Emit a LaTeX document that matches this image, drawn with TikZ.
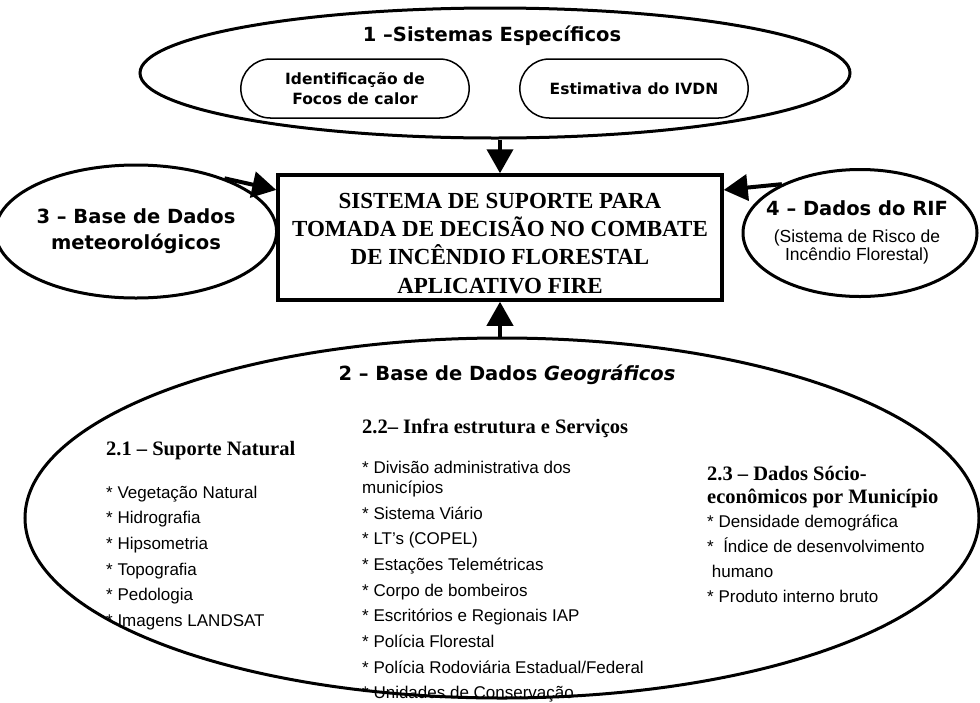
\documentclass[tikz,border=0pt]{standalone}
\usepackage{fontspec}
\setmainfont{Liberation Serif}
\newfontfamily\titlefont{DejaVu Sans}
\newfontfamily\listfont{Liberation Sans}
\usetikzlibrary{arrows.meta,shapes.geometric,shapes.misc}

\begin{document}
\begin{tikzpicture}[x=1pt,y=-1pt,
	bigell/.style={ellipse,draw,line width=3pt,inner sep=0pt},
	smallell/.style={rounded rectangle,draw,line width=1.5pt,minimum width=235pt,minimum height=59pt,align=center,
		font=\titlefont\bfseries\fontsize{15.5}{20}\selectfont},
	title/.style={font=\titlefont\bfseries\fontsize{19.5}{26}\selectfont,align=center},
	subhead/.style={font=\bfseries\fontsize{20.5}{23}\selectfont,align=left,inner sep=0pt},
	items/.style={font=\listfont\fontsize{17}{25.7}\selectfont,align=left,anchor=north west,inner sep=0pt},
	arr/.style={-{Triangle[length=24pt,width=26pt]},line width=4pt}]

	\useasboundingbox (0,0) rectangle (980,702);

	% central box
	\node[draw,line width=3.5pt,minimum width=444pt,minimum height=125pt,align=center,
		font=\bfseries\fontsize{23}{28.3}\selectfont] (fire) at (500,237.5)
		{\rule{0pt}{27pt}SISTEMA DE SUPORTE PARA\\TOMADA DE DECISÃO NO COMBATE\\DE INCÊNDIO FLORESTAL\\APLICATIVO FIRE};

	% 1 - sistemas especificos
	\node[bigell,minimum width=710pt,minimum height=130pt] (spec) at (495,73) {};
	\node[title,anchor=base] (spectitle) at (492,41) {1 –Sistemas Específicos};
	\node[smallell] (focos) at (355,88.5) {Identificação de\\Focos de calor};
	\node[smallell] (ivdn) at (634,88.5) {Estimativa do IVDN};

	% 3 - meteorologia
	\node[bigell,title,minimum width=262pt,minimum height=133pt] (meteo) at (136,231.5)
		{3 – Base de Dados\\meteorológicos};

	% 4 - RIF
	\node[bigell,minimum width=234pt,minimum height=127pt] (rif) at (860,233) {};
	\node[title,anchor=base] (riftitle) at (857,215) {4 – Dados do RIF};
	\node[font=\listfont\fontsize{17.5}{18}\selectfont,align=center,anchor=north,inner sep=0pt]
		(rifsub) at (857,229.5) {(Sistema de Risco de\\Incêndio Florestal)};

	% 2 - base geografica
	\node[bigell,minimum width=954pt,minimum height=360pt] (geo) at (502,518) {};
	\node[title,anchor=base] (geotitle) at (507,380) {2 – Base de Dados \textit{Geográficos}};

	\node[subhead,anchor=base west] (nat) at (106,455) {2.1 – Suporte Natural};
	\node[items] (natlist) at (106,485.6) {* Vegetação Natural\\* Hidrografia\\* Hipsometria\\* Topografia\\* Pedologia\\* Imagens LANDSAT};

	\node[subhead,anchor=base west] (infra) at (362,433) {2.2– Infra estrutura e Serviços};
	\node[items] (infralist) at (362,460.6) {* Divisão administrativa dos\\[-5.5pt]municípios\\* Sistema Viário\\* LT’s (COPEL)\\* Estações Telemétricas\\* Corpo de bombeiros\\* Escritórios e Regionais IAP\\* Polícia Florestal\\* Polícia Rodoviária Estadual/Federal\\* Unidades de Conservação};

	\node[subhead,anchor=north west] (socio) at (707,466) {2.3 – Dados Sócio-\\econômicos por Município};
	\node[items,font=\listfont\fontsize{17}{25}\selectfont] (sociolist) at (707,514.6) {* Densidade demográfica\\* \ Índice de desenvolvimento\\\ humano\\* Produto interno bruto};

	% connectors
	\draw[arr] (spec.south -| fire.north) -- (fire.north);
	\draw[arr] (geo.north -| fire.south) -- (fire.south);
	\draw[arr] (meteo.31) -- (fire.168);
	\draw[arr] (rif.148) -- (fire.12);

\end{tikzpicture}
\end{document}
